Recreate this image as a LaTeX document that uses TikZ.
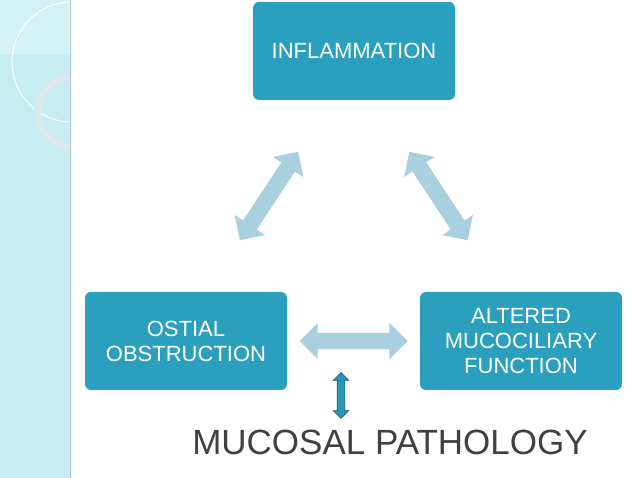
\documentclass[tikz,border=0pt]{standalone}
\usepackage{fontspec}
\setmainfont{Liberation Sans}
\usetikzlibrary{shapes.arrows}
\definecolor{boxblue}{HTML}{2AA0BE}
\definecolor{arrowblue}{HTML}{A8D0DE}
\definecolor{darkblue}{HTML}{2A96B4}
\definecolor{strip}{HTML}{C6EDF1}
\definecolor{ring}{HTML}{DCE8EA}
\begin{document}
\begin{tikzpicture}[x=1pt,y=-1pt,
  box/.style={draw=none,fill=boxblue,rounded corners=6pt,minimum width=202pt,minimum height=98pt,
    text=white,align=center,font=\fontsize{22}{25}\selectfont},
  big arrow/.style={double arrow,fill=arrowblue,draw=none,minimum height=#1,
    double arrow head extend=10pt,inner xsep=0pt,inner ysep=8pt},
  small arrow/.style={double arrow,fill=darkblue,draw=darkblue!60!black,line width=0.6pt,
    minimum height=#1,double arrow head extend=4pt,inner xsep=0pt,inner ysep=3.5pt,rotate=90}]
\useasboundingbox (0,0) rectangle (638,478);
\fill[white] (0,0) rectangle (638,478);
% side strip
\begin{scope}
\clip (0,0) rectangle (70,478);
\fill[strip] (0,0) rectangle (70,478);
\fill[white,opacity=0.25] (0,0) rectangle (70,55);
\draw[white,line width=1pt] (72,62) circle (60);
\draw[ring,line width=7pt] (72,112) circle (34);
\end{scope}
\draw[strip!70!gray,line width=0.8pt] (70,0) -- (70,478);
% boxes
\node[box] (infl) at (354,51) {INFLAMMATION};
\node[box] (ost) at (186,341) {OSTIAL\\OBSTRUCTION};
\node[box] (muc) at (521,341) {ALTERED\\MUCOCILIARY\\FUNCTION};
% arrows
\node[big arrow=106pt,rotate=56.6] (a1) at (269,196) {};
\node[big arrow=106pt,rotate=-56.6] (a2) at (438.5,196) {};
\node[big arrow=108pt] (a3) at (353.5,341) {};
\node[small arrow=46pt] (a4) at (341,395.5) {};
% label
\node[text=black!75,font=\fontsize{35}{40}\selectfont,anchor=base] (mp) at (390,455) {MUCOSAL PATHOLOGY};
\end{tikzpicture}
\end{document}
